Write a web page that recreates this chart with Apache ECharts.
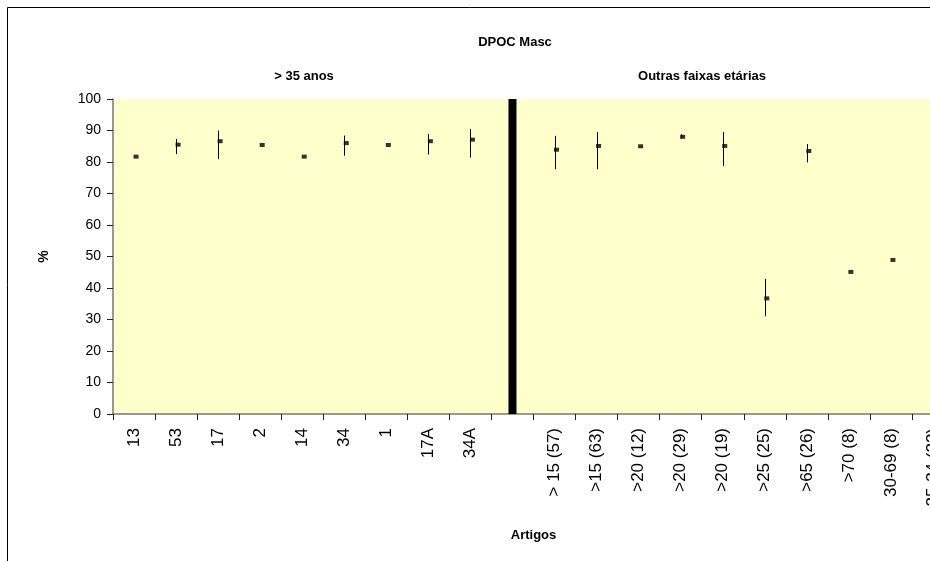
<!DOCTYPE html>
<html>
<head>
<meta charset="utf-8">
<script src="https://cdn.jsdelivr.net/npm/echarts@6/dist/echarts.min.js"></script>
<style>html,body{margin:0;padding:0;background:#fff}#c{width:930px;height:561px}</style>
</head>
<body>
<div id="c"></div>
<script>
var categories = ['13','53','17','2','14','34','1','17A','34A','',
  '> 15 (57)','>15 (63)','>20 (12)','>20 (29)','>20 (19)','>25 (25)','>65 (26)','>70 (8)','30-69 (8)','25-34 (22)'];
var pointValues = [81.7,85.5,86.6,85.4,81.7,86.0,85.4,86.6,87.1,null,
  83.9,85.1,85.0,88.0,85.1,36.7,83.5,45.1,48.9,null];
var errLow  = [null,82.5,80.9,null,null,82.0,null,82.4,81.4,null,
  77.7,77.7,null,87.5,78.7,31.0,79.9,null,null,null];
var errHigh = [null,87.3,90.0,null,null,88.4,null,88.9,90.5,null,
  88.3,89.5,null,88.8,89.5,42.9,85.7,null,null,null];
var separator = [null,null,null,null,null,null,null,null,null,100,
  null,null,null,null,null,null,null,null,null,null];
var yTicks = {min:0, max:100, interval:10};

var errData = [];
for (var i = 0; i < categories.length; i++) {
  if (errLow[i] != null && errHigh[i] != null) errData.push([i, errLow[i], errHigh[i]]);
}

var chart = echarts.init(document.getElementById('c'));
var font = 'Liberation Sans, Arial, sans-serif';
chart.setOption({
  animation: false,
  title: [
    {text:'DPOC Masc', left:510, top:31, textAlign:'center', textStyle:{fontFamily:font, fontSize:13, fontWeight:'bold', color:'#000'}},
    {text:'> 35 anos', left:299, top:65, textAlign:'center', textStyle:{fontFamily:font, fontSize:13, fontWeight:'bold', color:'#000'}},
    {text:'Outras faixas etárias', left:697, top:65, textAlign:'center', textStyle:{fontFamily:font, fontSize:13, fontWeight:'bold', color:'#000'}}
  ],
  graphic: [
    {type:'rect', shape:{x:7.5, y:7.5, width:1000, height:600}, style:{fill:'none', stroke:'#000', lineWidth:1}, silent:true}
  ],
  grid: {left:113, top:99, right:-24, bottom:147, show:true, backgroundColor:'#FFFFCC', borderWidth:0,
    outerBoundsMode:'none', containLabel:false},
  xAxis: {
    type:'category', data:categories,
    name:'Artigos', nameLocation:'middle', nameGap:115,
    nameTextStyle:{fontFamily:font, fontSize:13, fontWeight:'bold', color:'#000'},
    axisLine:{lineStyle:{color:'#777', width:1.5}},
    axisTick:{show:true, length:6, lineStyle:{color:'#222'}},
    axisLabel:{rotate:90, interval:0, margin:14, fontFamily:font, fontSize:17, color:'#000'},
    splitLine:{show:false}
  },
  yAxis: {
    type:'value', min:yTicks.min, max:yTicks.max, interval:yTicks.interval,
    name:'%', nameLocation:'middle', nameGap:62, nameRotate:90,
    nameTextStyle:{fontFamily:font, fontSize:14, fontWeight:'bold', color:'#000'},
    axisLine:{show:true, lineStyle:{color:'#777', width:1.5}},
    axisTick:{show:true, length:6, lineStyle:{color:'#222'}},
    axisLabel:{margin:12, fontFamily:font, fontSize:14, color:'#000'},
    splitLine:{show:false}
  },
  series: [
    {type:'bar', data:separator, barWidth:8, itemStyle:{color:'#000'}, silent:true, z:1},
    {type:'custom', data:errData, z:3, silent:true,
      encode:{x:0, y:[1,2]},
      renderItem:function(params, api){
        var p1 = api.coord([api.value(0), api.value(1)]);
        var p2 = api.coord([api.value(0), api.value(2)]);
        var x = Math.round(p1[0]) + 0.5;
        return {type:'line', shape:{x1:x, y1:p1[1], x2:x, y2:p2[1]}, style:{stroke:'#000', lineWidth:1}};
      }
    },
    {type:'scatter', data:pointValues, symbol:'rect', symbolSize:[5,4], symbolOffset:[2,0],
      itemStyle:{color:'#000'}, z:4, silent:true}
  ]
});
</script>
</body>
</html>
